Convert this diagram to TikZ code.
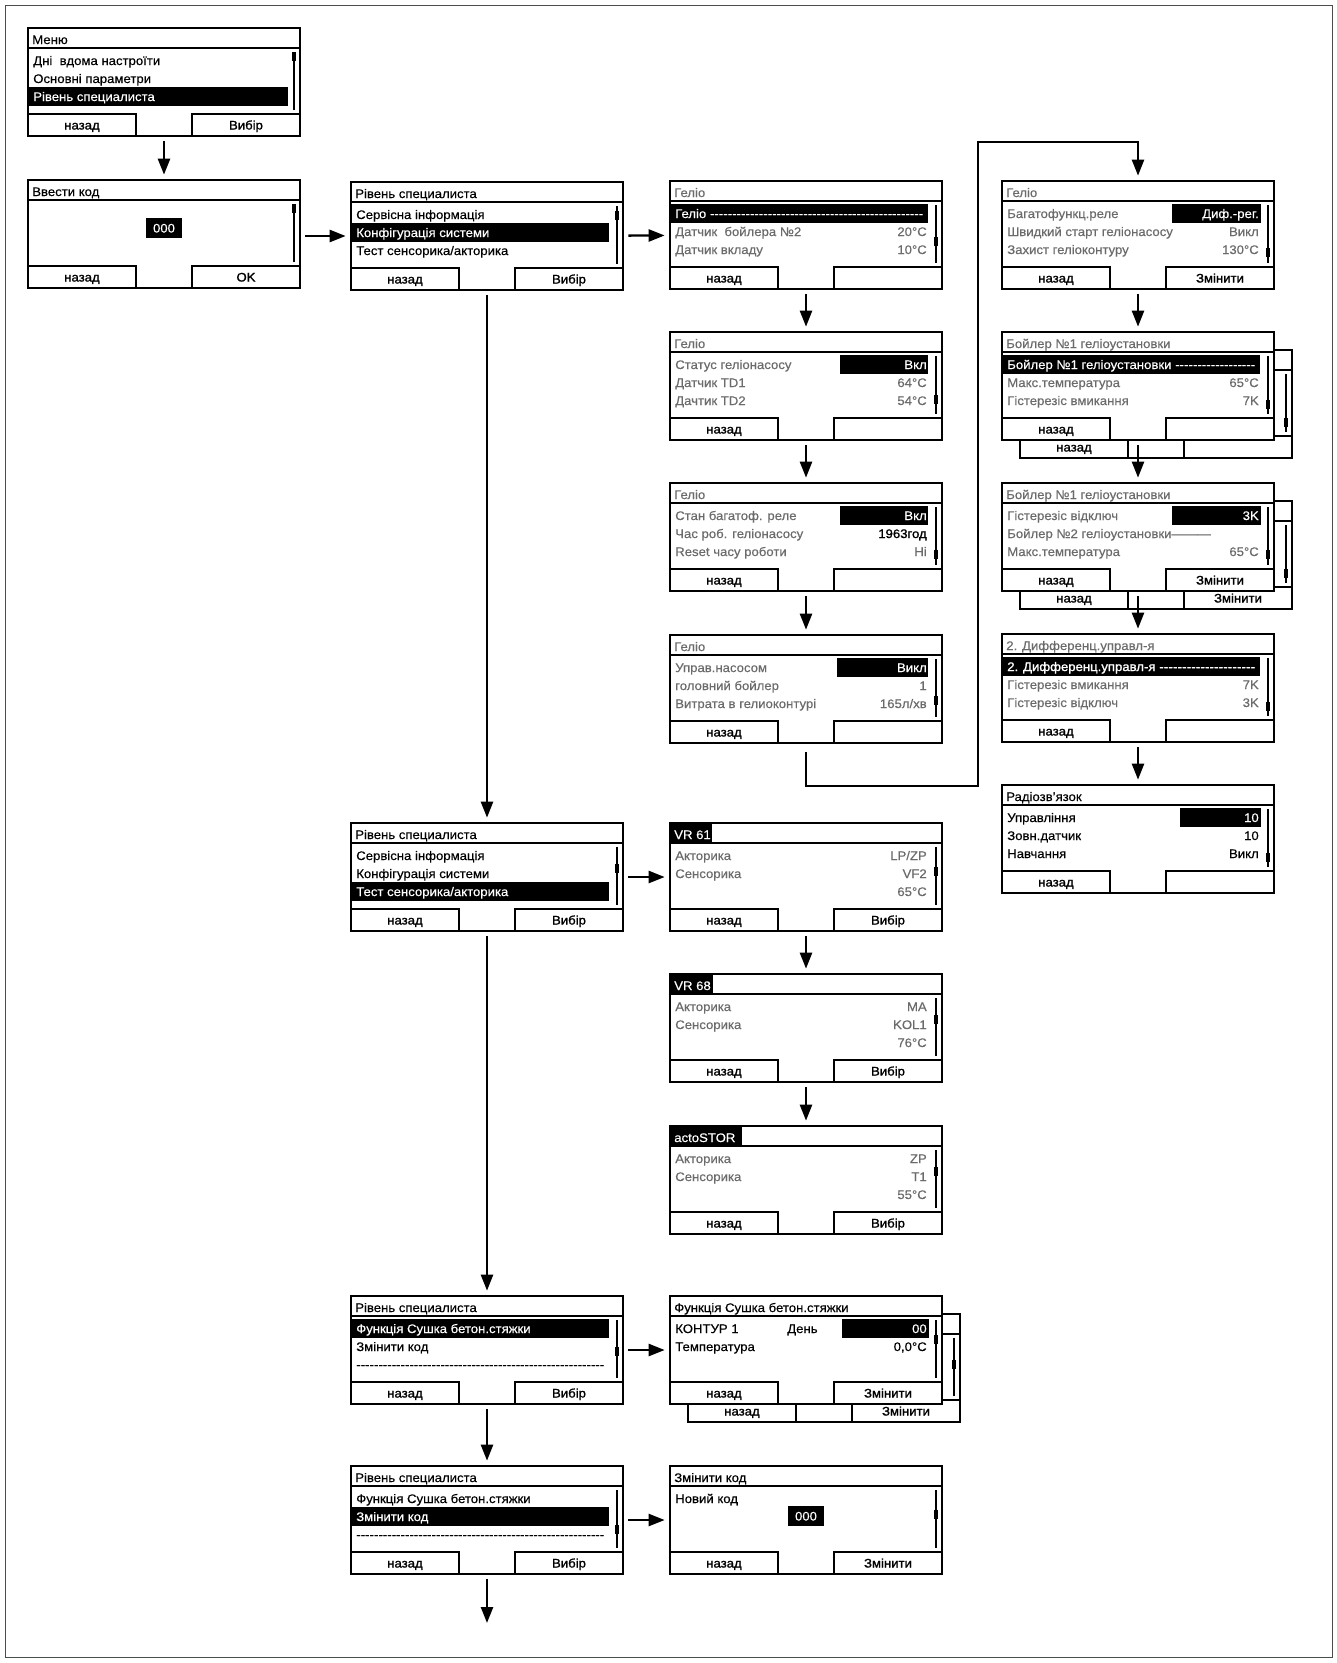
\documentclass[tikz,border=0pt]{standalone}
\usepackage{fontspec}
\setmainfont{Liberation Sans}[FakeStretch=1.06,FakeBold=0.35]
\newfontfamily\btnfont{Liberation Sans}[FakeStretch=1.06,FakeBold=1.3]
\usetikzlibrary{arrows.meta}
\definecolor{tg}{gray}{0.42}
\newcommand\scScr[4]{%
  \node[scr] (#1) at ({#2+136},{#3+54}) {};
  \draw[sl] ({#2},{#3+20}) -- ({#2+272},{#3+20});
  \draw[sl] ({#2},{#3+86}) rectangle ({#2+108},{#3+108});
  \draw[sl] ({#2+164},{#3+86}) rectangle ({#2+272},{#3+108});
  \draw[sl] ({#2+266},{#3+24}) -- ({#2+266},{#3+82});
  \fill ({#2+263.8},{#3+24+49*#4}) rectangle ({#2+268.4},{#3+33+49*#4});}
\newcommand\scBtn[5]{%
  \node[bt] (#1-bl) at ({#2+54},{#3+101.5}) {#4};
  \node[bt] (#1-br) at ({#2+218},{#3+101.5}) {#5};}
\newcommand\scTitle[5]{%
  \node[tx, anchor=base west, text=#4] (#1-t) at ({#2+4},{#3+16}) {#5};}
\newcommand\scRow[6]{%
  \node[tx, anchor=base west, text=#5] (#1-r#4) at ({#2+5},{#3+19+18*#4}) {#6};}
\newcommand\scVal[6]{%
  \node[tx, anchor=base east, text=#5] (#1-v#4) at ({#2+257},{#3+19+18*#4}) {#6};}
\newcommand\scBar[5]{%
  \fill ({#1+#4},{#2+5+18*#3}) rectangle ({#1+#5},{#2+24+18*#3});}
\newcommand\scDash[1]{\hbox to 186pt{#1\xleaders\hbox{-}\hfill}}
\begin{document}
\begin{tikzpicture}[x=0.75pt,y=-0.75pt,
  scr/.style={draw, fill=white, line width=1.1pt, minimum width=204pt, minimum height=81pt, inner sep=0pt, outer sep=0pt},
  sl/.style={line width=1.1pt},
  tx/.style={inner sep=0pt, font=\fontsize{9.3}{10}\selectfont},
  bt/.style={inner sep=0pt, anchor=base, font=\fontsize{9.3}{10}\selectfont\btnfont},
  arr/.style={line width=1.8pt, -{Triangle[length=12pt,width=9pt]}, shorten <=4pt, shorten >=4pt}]
\useasboundingbox (0,0) rectangle (1337,1663);
\draw[line width=0.5pt, black!70] (5,5) rectangle (1332,1657);

% ---------- column 1
\scScr{menu}{28}{28}{0}
\scTitle{menu}{28}{28}{black}{Меню}
\scRow{menu}{28}{28}{1}{black}{Дні\ \ вдома настроїти}
\scRow{menu}{28}{28}{2}{black}{Основні параметри}
\scBar{28}{28}{3}{0}{260}
\scRow{menu}{28}{28}{3}{white}{Рівень специалиста}
\scBtn{menu}{28}{28}{назад}{Вибір}

\scScr{code}{28}{180}{0}
\scTitle{code}{28}{180}{black}{Ввести код}
\fill (146,218) rectangle (182,238);
\node[tx, text=white, anchor=base] (code-v) at (164,232.5) {000};
\scBtn{code}{28}{180}{назад}{OK}

% ---------- column 2
\scScr{lvl1}{351}{182}{0.1}
\scTitle{lvl1}{351}{182}{black}{Рівень специалиста}
\scRow{lvl1}{351}{182}{1}{black}{Сервісна інформація}
\scBar{351}{182}{2}{0}{258}
\scRow{lvl1}{351}{182}{2}{white}{Конфігурація системи}
\scRow{lvl1}{351}{182}{3}{black}{Тест сенсорика/акторика}
\scBtn{lvl1}{351}{182}{назад}{Вибір}

\scScr{lvl2}{351}{823}{0.35}
\scTitle{lvl2}{351}{823}{black}{Рівень специалиста}
\scRow{lvl2}{351}{823}{1}{black}{Сервісна інформація}
\scRow{lvl2}{351}{823}{2}{black}{Конфігурація системи}
\scBar{351}{823}{3}{0}{258}
\scRow{lvl2}{351}{823}{3}{white}{Тест сенсорика/акторика}
\scBtn{lvl2}{351}{823}{назад}{Вибір}

\scScr{lvl3}{351}{1296}{0.55}
\scTitle{lvl3}{351}{1296}{black}{Рівень специалиста}
\scBar{351}{1296}{1}{0}{258}
\scRow{lvl3}{351}{1296}{1}{white}{Функція Сушка бетон.стяжки}
\scRow{lvl3}{351}{1296}{2}{black}{Змінити код}
\scRow{lvl3}{351}{1296}{3}{black}{\scDash{}}
\scBtn{lvl3}{351}{1296}{назад}{Вибір}

\scScr{lvl4}{351}{1466}{0.72}
\scTitle{lvl4}{351}{1466}{black}{Рівень специалиста}
\scRow{lvl4}{351}{1466}{1}{black}{Функція Сушка бетон.стяжки}
\scBar{351}{1466}{2}{0}{258}
\scRow{lvl4}{351}{1466}{2}{white}{Змінити код}
\scRow{lvl4}{351}{1466}{3}{black}{\scDash{}}
\scBtn{lvl4}{351}{1466}{назад}{Вибір}

% ---------- column 3 (top)
\scScr{g1}{670}{181}{0.65}
\scTitle{g1}{670}{181}{tg}{Геліо}
\scBar{670}{181}{1}{0}{258}
\scRow{g1}{670}{181}{1}{white}{\scDash{Геліо\ }}
\scRow{g1}{670}{181}{2}{tg}{Датчик\ \ бойлера №2}
\scVal{g1}{670}{181}{2}{tg}{20°C}
\scRow{g1}{670}{181}{3}{tg}{Датчик вкладу}
\scVal{g1}{670}{181}{3}{tg}{10°C}
\scBtn{g1}{670}{181}{назад}{}

\scScr{g2}{670}{332}{0.8}
\scTitle{g2}{670}{332}{tg}{Геліо}
\scBar{670}{332}{1}{170}{258}
\scRow{g2}{670}{332}{1}{tg}{Статус геліонасосу}
\scVal{g2}{670}{332}{1}{white}{Вкл}
\scRow{g2}{670}{332}{2}{tg}{Датчик TD1}
\scVal{g2}{670}{332}{2}{tg}{64°C}
\scRow{g2}{670}{332}{3}{tg}{Дачтик TD2}
\scVal{g2}{670}{332}{3}{tg}{54°C}
\scBtn{g2}{670}{332}{назад}{}

\scScr{g3}{670}{483}{0.88}
\scTitle{g3}{670}{483}{tg}{Геліо}
\scBar{670}{483}{1}{170}{258}
\scRow{g3}{670}{483}{1}{tg}{Стан багатоф. реле}
\scVal{g3}{670}{483}{1}{white}{Вкл}
\scRow{g3}{670}{483}{2}{tg}{Час роб. геліонасосу}
\scVal{g3}{670}{483}{2}{black}{\btnfont 1963год}
\scRow{g3}{670}{483}{3}{tg}{Reset часу роботи}
\scVal{g3}{670}{483}{3}{tg}{Ні}
\scBtn{g3}{670}{483}{назад}{}

\scScr{g4}{670}{635}{0.75}
\scTitle{g4}{670}{635}{tg}{Геліо}
\scBar{670}{635}{1}{167}{258}
\scRow{g4}{670}{635}{1}{tg}{Управ.насосом}
\scVal{g4}{670}{635}{1}{white}{Викл}
\scRow{g4}{670}{635}{2}{tg}{головний бойлер}
\scVal{g4}{670}{635}{2}{tg}{1}
\scRow{g4}{670}{635}{3}{tg}{Витрата в гелиоконтурі}
\scVal{g4}{670}{635}{3}{tg}{165л/хв}
\scBtn{g4}{670}{635}{назад}{}

% ---------- column 3 (lower)
\scScr{vr61}{670}{823}{0.4}
\fill (670,823) rectangle (712,843);
\scTitle{vr61}{670}{823}{white}{VR 61}
\scRow{vr61}{670}{823}{1}{tg}{Акторика}
\scRow{vr61}{670}{823}{2}{tg}{Сенсорика}
\scVal{vr61}{670}{823}{1}{tg}{LP/ZP}
\scVal{vr61}{670}{823}{2}{tg}{VF2}
\scVal{vr61}{670}{823}{3}{tg}{65°C}
\scBtn{vr61}{670}{823}{назад}{Вибір}

\scScr{vr68}{670}{974}{0.35}
\fill (670,974) rectangle (713,994);
\scTitle{vr68}{670}{974}{white}{VR 68}
\scRow{vr68}{670}{974}{1}{tg}{Акторика}
\scRow{vr68}{670}{974}{2}{tg}{Сенсорика}
\scVal{vr68}{670}{974}{1}{tg}{MA}
\scVal{vr68}{670}{974}{2}{tg}{KOL1}
\scVal{vr68}{670}{974}{3}{tg}{76°C}
\scBtn{vr68}{670}{974}{назад}{Вибір}

\scScr{acto}{670}{1126}{0.35}
\fill (670,1126) rectangle (742,1146);
\scTitle{acto}{670}{1126}{white}{actoSTOR}
\scRow{acto}{670}{1126}{1}{tg}{Акторика}
\scRow{acto}{670}{1126}{2}{tg}{Сенсорика}
\scVal{acto}{670}{1126}{1}{tg}{ZP}
\scVal{acto}{670}{1126}{2}{tg}{T1}
\scVal{acto}{670}{1126}{3}{tg}{55°C}
\scBtn{acto}{670}{1126}{назад}{Вибір}

\scScr{fng}{688}{1314}{0.45}
\scBtn{fng}{688}{1314}{назад}{Змінити}
\scScr{fn}{670}{1296}{0.3}
\scTitle{fn}{670}{1296}{black}{Функція Сушка бетон.стяжки}
\scBar{670}{1296}{1}{172}{259}
\scRow{fn}{670}{1296}{1}{black}{КОНТУР 1}
\node[tx, anchor=base west] (fn-day) at (787,1333) {День};
\scVal{fn}{670}{1296}{1}{white}{00}
\scRow{fn}{670}{1296}{2}{black}{Температура}
\scVal{fn}{670}{1296}{2}{black}{0,0°C}
\scBtn{fn}{670}{1296}{назад}{Змінити}

\scScr{chg}{670}{1466}{0.4}
\scTitle{chg}{670}{1466}{black}{Змінити код}
\scRow{chg}{670}{1466}{1}{black}{Новий код}
\fill (788,1506) rectangle (824,1526);
\node[tx, text=white, anchor=base] (chg-v) at (806,1520.5) {000};
\scBtn{chg}{670}{1466}{назад}{Змінити}

% ---------- column 4
\scScr{r1}{1002}{181}{0.88}
\scTitle{r1}{1002}{181}{tg}{Геліо}
\scBar{1002}{181}{1}{170}{259}
\scRow{r1}{1002}{181}{1}{tg}{Багатофункц.реле}
\scVal{r1}{1002}{181}{1}{white}{Диф.-рег.}
\scRow{r1}{1002}{181}{2}{tg}{Швидкий старт геліонасосу}
\scVal{r1}{1002}{181}{2}{tg}{Викл}
\scRow{r1}{1002}{181}{3}{tg}{Захист геліоконтуру}
\scVal{r1}{1002}{181}{3}{tg}{130°C}
\scBtn{r1}{1002}{181}{назад}{Змінити}

\scScr{r2g}{1020}{350}{0.9}
\scBtn{r2g}{1020}{350}{назад}{}
\scScr{r2}{1002}{332}{0.9}
\scTitle{r2}{1002}{332}{tg}{Бойлер №1 геліоустановки}
\scBar{1002}{332}{1}{0}{258}
\scRow{r2}{1002}{332}{1}{white}{\scDash{Бойлер №1 геліоустановки\ }}
\scRow{r2}{1002}{332}{2}{tg}{Макс.температура}
\scVal{r2}{1002}{332}{2}{tg}{65°C}
\scRow{r2}{1002}{332}{3}{tg}{Гістерезіс вмикання}
\scVal{r2}{1002}{332}{3}{tg}{7K}
\scBtn{r2}{1002}{332}{назад}{}

\scScr{r3g}{1020}{501}{0.9}
\scBtn{r3g}{1020}{501}{назад}{Змінити}
\scScr{r3}{1002}{483}{0.88}
\scTitle{r3}{1002}{483}{tg}{Бойлер №1 геліоустановки}
\scBar{1002}{483}{1}{170}{259}
\scRow{r3}{1002}{483}{1}{tg}{Гістерезіс відключ}
\scVal{r3}{1002}{483}{1}{white}{3K}
\scRow{r3}{1002}{483}{2}{tg}{Бойлер №2 геліоустановки———}
\scRow{r3}{1002}{483}{3}{tg}{Макс.температура}
\scVal{r3}{1002}{483}{3}{tg}{65°C}
\scBtn{r3}{1002}{483}{назад}{Змінити}

\scScr{r4}{1002}{634}{0.9}
\scTitle{r4}{1002}{634}{tg}{2. Дифференц.управл-я}
\scBar{1002}{634}{1}{0}{258}
\scRow{r4}{1002}{634}{1}{white}{\btnfont\scDash{2. Дифференц.управл-я\ }}
\scRow{r4}{1002}{634}{2}{tg}{Гістерезіс вмикання}
\scVal{r4}{1002}{634}{2}{tg}{7K}
\scRow{r4}{1002}{634}{3}{tg}{Гістерезіс відключ}
\scVal{r4}{1002}{634}{3}{tg}{3K}
\scBtn{r4}{1002}{634}{назад}{}

\scScr{r5}{1002}{785}{0.9}
\scTitle{r5}{1002}{785}{black}{Радіозв'язок}
\scBar{1002}{785}{1}{178}{259}
\scRow{r5}{1002}{785}{1}{black}{Управління}
\scVal{r5}{1002}{785}{1}{white}{10}
\scRow{r5}{1002}{785}{2}{black}{Зовн.датчик}
\scVal{r5}{1002}{785}{2}{black}{10}
\scRow{r5}{1002}{785}{3}{black}{Навчання}
\scVal{r5}{1002}{785}{3}{black}{Викл}
\scBtn{r5}{1002}{785}{назад}{}

% ---------- connectors
\draw[arr] (menu) -- (code);
\draw[arr] (code.east |- lvl1) -- (lvl1);
\draw[arr] (lvl1) -- (g1);
\draw[arr] (lvl1) -- (lvl2);
\draw[arr] (lvl2) -- (lvl3);
\draw[arr] (lvl3) -- (lvl4);
\coordinate (endc) at (487,1623);
\draw[arr, shorten >=0pt] (lvl4) -- (endc);
\draw[arr] (lvl2) -- (vr61);
\draw[arr] (lvl3) -- (fn);
\draw[arr] (lvl4) -- (chg);
\draw[arr] (g1) -- (g2);
\draw[arr] (g2) -- (g3);
\draw[arr] (g3) -- (g4);
\draw[arr] (vr61) -- (vr68);
\draw[arr] (vr68) -- (acto);
\coordinate (k1) at (806,786);
\coordinate (k2) at (978,786);
\coordinate (k3) at (978,142);
\coordinate (k4) at (1138,142);
\draw[arr, shorten <=7pt] (g4) -- (k1) -- (k2) -- (k3) -- (k4) -- (r1);
\draw[arr] (r1) -- (r2);
\draw[arr] (r2) -- (r3);
\draw[arr] (r3) -- (r4);
\draw[arr] (r4) -- (r5);
\end{tikzpicture}
\end{document}
